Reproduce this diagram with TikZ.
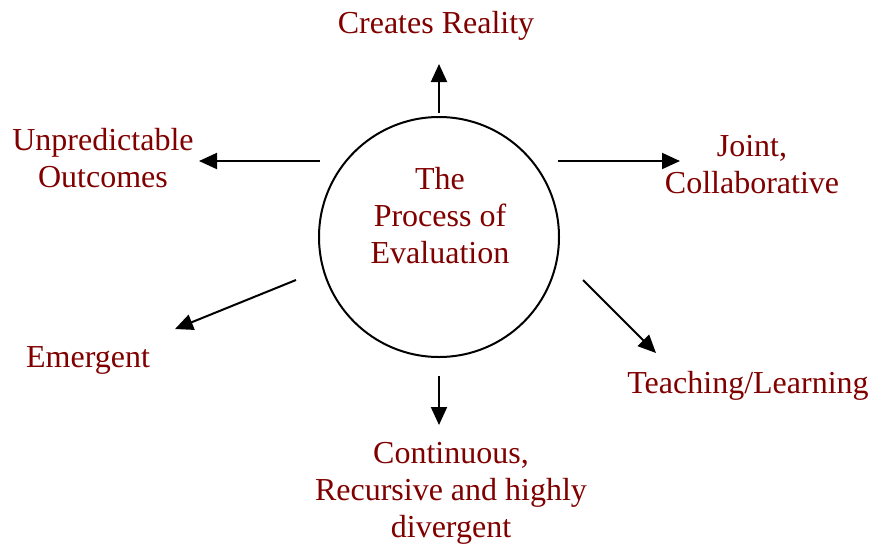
\documentclass[tikz,border=0pt]{standalone}
\usepackage{fontspec}
\setmainfont{Liberation Serif}
\usetikzlibrary{arrows.meta}
\definecolor{lblred}{RGB}{128,0,0}
\begin{document}
\begin{tikzpicture}[x=1pt,y=-1pt,
  lbl/.style={text=lblred, font=\fontsize{32}{37}\selectfont, align=center, inner sep=0pt, anchor=base},
  arr/.style={line width=2pt, -{Triangle[length=18pt,width=16pt]}}]
\useasboundingbox (0,0) rectangle (876,550);
\node[draw, line width=2pt, circle, minimum size=240pt, inner sep=0pt] (circ) at (439,237) {};
\node[lbl] (center) at (440,263) {The\\Process of\\Evaluation};
% labels
\node[lbl] (creates) at (436,33) {Creates Reality};
\node[lbl] (joint) at (752,193) {Joint,\\Collaborative};
\node[lbl] (unpred) at (103,187) {Unpredictable\\Outcomes};
\node[lbl] (emerg) at (88,367) {Emergent};
\node[lbl] (teach) at (748,393) {Teaching/Learning};
\node[lbl] (cont) at (451,537) {Continuous,\\Recursive and highly\\divergent};
% arrow end points
\coordinate (upS) at (439,113);  \coordinate (upE) at (439,64);
\coordinate (rS) at (558,161);   \coordinate (rE) at (680,161);
\coordinate (lS) at (320,161);   \coordinate (lE) at (199,161);
\coordinate (llS) at (296,280);  \coordinate (llE) at (175,329);
\coordinate (lrS) at (583,280);  \coordinate (lrE) at (656,353);
\coordinate (dS) at (439,376);   \coordinate (dE) at (439,425);
\draw[arr] (upS) -- (upE);
\draw[arr] (rS) -- (rE);
\draw[arr] (lS) -- (lE);
\draw[arr] (llS) -- (llE);
\draw[arr] (lrS) -- (lrE);
\draw[arr] (dS) -- (dE);
\end{tikzpicture}
\end{document}
